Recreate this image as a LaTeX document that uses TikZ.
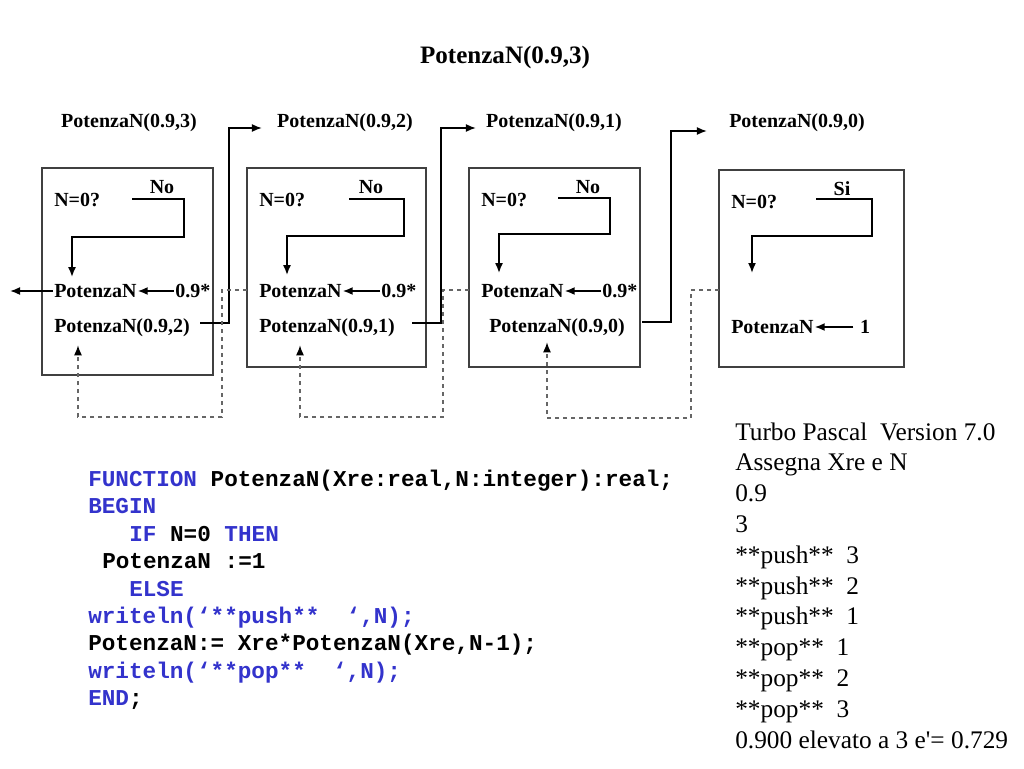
\documentclass[tikz,border=0pt]{standalone}
\usepackage{fontspec}
\setmainfont{Liberation Serif}
\setmonofont{Liberation Mono}
\usepackage{xcolor}
\usetikzlibrary{calc,arrows.meta}
\definecolor{kwblue}{RGB}{51,51,204}
\newcommand{\kw}[1]{\textcolor{kwblue}{#1}}

\tikzset{
  lbl/.style={font=\fontsize{15}{18}\selectfont\bfseries, inner sep=0.75pt},
  codeline/.style={font=\fontsize{17}{20}\selectfont\ttfamily\bfseries, inner sep=0pt, anchor=base west},
  outline/.style={font=\fontsize{19}{23}\selectfont, inner sep=0pt, anchor=base west},
  frame/.style={draw=black!75, line width=1pt},
  flow/.style={line width=1.25pt, -{Latex[length=7.5pt,width=6pt]}},
  back/.style={draw=black!60, dashed, line width=0.9pt, -{Latex[black,length=7.5pt,width=6pt]}},
}

\begin{document}
\begin{tikzpicture}[x=0.75pt,y=0.75pt,yscale=-1,xscale=1]
\fill[white] (0,0) rectangle (1024,768);
\useasboundingbox (0,0) rectangle (1024,768);

% Text Node
\draw (505,57) node (title) [font=\fontsize{18.8}{22}\selectfont\bfseries] {PotenzaN(0.9,3)};
% Text Node
\draw (129,123) node (h1) [lbl] {PotenzaN(0.9,3)};
\draw (345,123) node (h2) [lbl] {PotenzaN(0.9,2)};
\draw (554,123) node (h3) [lbl] {PotenzaN(0.9,1)};
\draw (797,123) node (h4) [lbl] {PotenzaN(0.9,0)};

% Shape: Rectangle
\draw [frame] (42,168) rectangle (213,375);
\draw [frame] (247,168) rectangle (426,367);
\draw [frame] (469,168) rectangle (640,367);
\draw [frame] (719,170) rectangle (904,367);

% Text Node
\draw (53,200) node (q1) [lbl, anchor=west] {N=0?};
\draw (162,187) node (no1) [lbl] {No};
\draw (53,291) node (p1) [lbl, anchor=west] {PotenzaN};
\draw (174,291) node (m1) [lbl, anchor=west] {0.9*};
\draw (53,328) node (r1) [lbl, anchor=west] {PotenzaN(0.9,2)};
% Text Node
\draw (258,200) node (q2) [lbl, anchor=west] {N=0?};
\draw (371,187) node (no2) [lbl] {No};
\draw (258,291) node (p2) [lbl, anchor=west] {PotenzaN};
\draw (380,291) node (m2) [lbl, anchor=west] {0.9*};
\draw (258,328) node (r2) [lbl, anchor=west] {PotenzaN(0.9,1)};
% Text Node
\draw (480,200) node (q3) [lbl, anchor=west] {N=0?};
\draw (588,187) node (no3) [lbl] {No};
\draw (480,291) node (p3) [lbl, anchor=west] {PotenzaN};
\draw (601,291) node (m3) [lbl, anchor=west] {0.9*};
\draw (488,328) node (r3) [lbl, anchor=west] {PotenzaN(0.9,0)};
% Text Node
\draw (730,202) node (q4) [lbl, anchor=west] {N=0?};
\draw (842,189) node (si4) [lbl] {Si};
\draw (730,327) node (p4) [lbl, anchor=west] {PotenzaN};
\draw (865,327) node (u4) [lbl] {1};

% Coordinates
\coordinate (s1) at (132,199); \coordinate (t1) at (184,237);
\coordinate (s2) at (349,199); \coordinate (t2) at (404,236);
\coordinate (s3) at (558,198); \coordinate (t3) at (610,234);
\coordinate (s4) at (816,199); \coordinate (t4) at (872,236);
\coordinate (z4) at (752,273);
\coordinate (ret) at (10,291);
\coordinate (k1) at (229,128); \coordinate (k2) at (441,128); \coordinate (k3) at (671,131);
\coordinate (e2) at (247,290); \coordinate (d2) at (222,417);
\coordinate (e3) at (469,290); \coordinate (d3) at (443,417);
\coordinate (e4) at (719,290); \coordinate (d4) at (691,418);

% Connection: test N=0
\draw [flow] (s1) -| (t1) -| ($(p1.north west)+(19,-6)$);
\draw [flow] (s2) -| (t2) -| ($(p2.north west)+(29,-8)$);
\draw [flow] (s3) -| (t3) -| ($(p3.north west)+(19,-10)$);
\draw [flow] (s4) -| (t4) -| (z4);

% Connection: product
\draw [flow] (m1.west) -- (p1.east);
\draw [flow] (m2.west) -- (p2.east);
\draw [flow] (m3.west) -- (p3.east);
\draw [flow, shorten <=4pt] (u4.west) -- (p4.east);
\draw [flow] (p1.west) -- (ret);

% Connection: call
\draw [flow, shorten >=10.5pt] ($(r1.east)+(9,-5)$) -| (k1) -- (k1 -| h2.west);
\draw [flow, shorten >=6.75pt] ($(r2.east)+(16,-5)$) -| (k2) -- (k2 -| h3.west);
\draw [flow, shorten >=15.75pt] ($(r3.east)+(16,-6)$) -| (k3) -- (k3 -| h4.west);

% Connection: return
\draw [back] (e2) -| (d2) -| ($(r1.south west)+(25,7)$);
\draw [back] (e3) -| (d3) -| ($(r2.south west)+(42,7)$);
\draw [back] (e4) -| (d4) -| ($(r3.south west)+(59,4)$);

% Text Node: code
\draw (88,486.5) node (c1) [codeline] {\kw{FUNCTION} PotenzaN(Xre:real,N:integer):real;};
\draw (88,513.9) node (c2) [codeline] {\kw{BEGIN}};
\draw (129,541.3) node (c3) [codeline] {\kw{IF} N=0 \kw{THEN}};
\draw (102,568.7) node (c4) [codeline] {PotenzaN :=1};
\draw (129,596.1) node (c5) [codeline] {\kw{ELSE}};
\draw (88,623.5) node (c6) [codeline] {\kw{writeln(‘**push**~~‘,N);}};
\draw (88,650.9) node (c7) [codeline] {PotenzaN:= Xre*PotenzaN(Xre,N-1);};
\draw (88,678.3) node (c8) [codeline] {\kw{writeln(‘**pop**~~‘,N);}};
\draw (88,705.7) node (c9) [codeline] {\kw{END};};

% Text Node: output
\draw (735,440) node (o1) [outline] {Turbo Pascal\ \ Version 7.0};
\draw (735,470.8) node (o2) [outline] {Assegna Xre e N};
\draw (735,501.6) node (o3) [outline] {0.9};
\draw (735,532.4) node (o4) [outline] {3};
\draw (735,563.2) node (o5) [outline] {**push**\ \ 3};
\draw (735,594) node (o6) [outline] {**push**\ \ 2};
\draw (735,624.8) node (o7) [outline] {**push**\ \ 1};
\draw (735,655.6) node (o8) [outline] {**pop**\ \ 1};
\draw (735,686.4) node (o9) [outline] {**pop**\ \ 2};
\draw (735,717.2) node (o10) [outline] {**pop**\ \ 3};
\draw (735,748) node (o11) [outline] {0.900 elevato a 3 e\textquotesingle= 0.729};

\end{tikzpicture}
\end{document}
